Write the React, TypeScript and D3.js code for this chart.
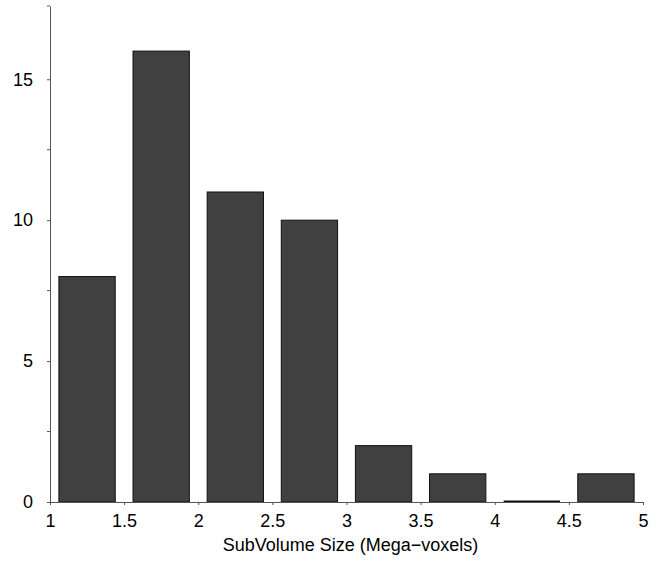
import * as d3 from "d3";
import React, { useRef, useEffect } from "react";

// bin centers and counts
const binCenters = [1.25, 1.75, 2.25, 2.75, 3.25, 3.75, 4.25, 4.75];
const counts = [8, 16, 11, 10, 2, 1, 0, 1];
const xTicks = [1, 1.5, 2, 2.5, 3, 3.5, 4, 4.5, 5];
const yTicks = [0, 5, 10, 15];
const yMinorTicks = [2.5, 7.5, 12.5, 17.6];
const xLabel = "SubVolume Size (Mega\u2212voxels)";

const App = () => {
  const ref = useRef<SVGSVGElement | null>(null);

  useEffect(() => {
    if (!ref.current) return;
    const width = 664;
    const height = 563;
    const margin = { top: 6, right: 21, bottom: 61, left: 50 };

    const svg = d3.select(ref.current);
    svg.selectAll("*").remove();
    svg.attr("width", width).attr("height", height);

    const x = d3
      .scaleLinear()
      .domain([1, 5])
      .range([margin.left, width - margin.right]);

    const y = d3
      .scaleLinear()
      .domain([0, 17.6])
      .range([height - margin.bottom, margin.top]);

    const binWidth = 0.38;
    const font = "'Liberation Sans', Arial, sans-serif";

    // bars (zero bars drawn as a flat line)
    const bars = svg.append("g");
    binCenters.forEach((c, i) => {
      const x0 = x(c - binWidth / 2);
      const x1 = x(c + binWidth / 2);
      if (counts[i] > 0) {
        bars
          .append("rect")
          .attr("x", x0)
          .attr("width", x1 - x0)
          .attr("y", y(counts[i]))
          .attr("height", y(0) - y(counts[i]))
          .attr("fill", "#404040")
          .attr("stroke", "#111")
          .attr("stroke-width", 1);
      } else {
        bars
          .append("line")
          .attr("x1", x0)
          .attr("x2", x1)
          .attr("y1", y(0) - 0.5)
          .attr("y2", y(0) - 0.5)
          .attr("stroke", "#111")
          .attr("stroke-width", 2);
      }
    });

    // x axis
    const xAxis = svg
      .append("g")
      .attr("transform", "translate(0," + y(0) + ")")
      .call(d3.axisBottom(x).tickValues(xTicks).tickSize(3).tickPadding(9).tickFormat((d) => String(d)));
    xAxis.select(".domain").attr("stroke", "#555");
    xAxis.selectAll("line").attr("stroke", "#555");
    xAxis.selectAll("text").style("font-family", font).style("font-size", "18px").attr("fill", "#000");

    // y axis
    const yAxis = svg
      .append("g")
      .attr("transform", "translate(" + margin.left + ",0)")
      .call(d3.axisLeft(y).tickValues(yTicks).tickSize(3).tickPadding(14).tickSizeOuter(0));
    yAxis.select(".domain").attr("stroke", "#555");
    yAxis.selectAll("line").attr("stroke", "#555");
    yAxis.selectAll("text").style("font-family", font).style("font-size", "18px").attr("fill", "#000");

    // minor ticks on y
    svg
      .append("g")
      .selectAll("line")
      .data(yMinorTicks)
      .enter()
      .append("line")
      .attr("x1", margin.left - 3)
      .attr("x2", margin.left)
      .attr("y1", (d) => y(d))
      .attr("y2", (d) => y(d))
      .attr("stroke", "#555");

    // axis label
    svg
      .append("text")
      .attr("x", (margin.left + width - margin.right) / 2 + 4)
      .attr("y", 551)
      .attr("text-anchor", "middle")
      .style("font-family", font)
      .style("font-size", "18px")
      .text(xLabel);
  }, []);

  return <svg ref={ref} style={{ position: "absolute", left: 0, top: 0 }} />;
};

export default App;
